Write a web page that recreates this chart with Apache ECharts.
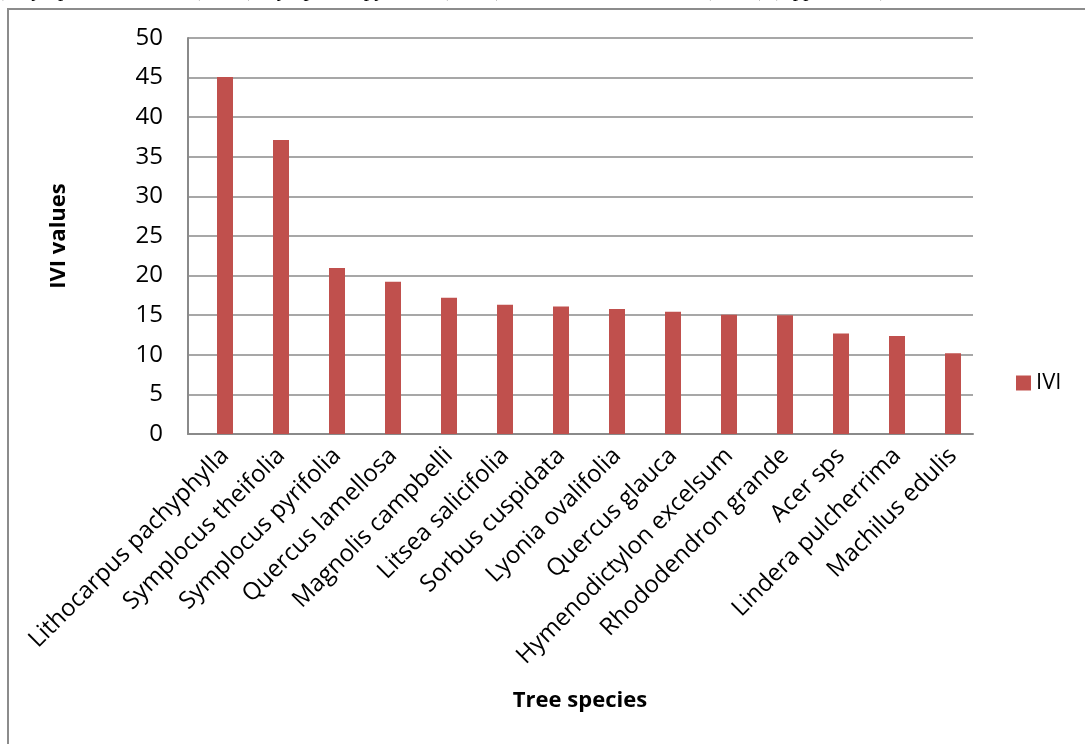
<!DOCTYPE html>
<html>
<head>
<meta charset="utf-8">
<title>IVI values of tree species</title>
<script src="https://cdn.jsdelivr.net/npm/echarts@6/dist/echarts.min.js"></script>
<style>
  html, body { margin: 0; padding: 0; background: #ffffff; }
  #chart { width: 1085px; height: 744px; }
</style>
</head>
<body>
<div id="chart"></div>
<script>
// Tree species ranked by Importance Value Index
const species = [
  'Lithocarpus pachyphylla', 'Symplocus theifolia', 'Symplocus pyrifolia',
  'Quercus lamellosa', 'Magnolis campbelli', 'Litsea salicifolia',
  'Sorbus cuspidata', 'Lyonia ovalifolia', 'Quercus glauca',
  'Hymenodictylon excelsum', 'Rhododendron grande', 'Acer sps',
  'Lindera pulcherrima', 'Machilus edulis'
];
const iviValues = [45.07, 37.12, 20.96, 19.23, 17.21, 16.33, 16.11, 15.78, 15.44, 15.06, 15.0, 12.70, 12.37, 10.18];
const seriesName = 'IVI';
const yTicks = { min: 0, max: 50, interval: 5 };
const yTitle = 'IVI values';
const xTitle = 'Tree species';
const captionLine = '), Symplocus theifolia (37.12), Symplocus pyrifolia (20.96) and Quercus lamellosa (19.23) (Appendix II).';

const font = '"Open Sans", "Liberation Sans", sans-serif';
const gridGray = '#8a8a8a';

const chart = echarts.init(document.getElementById('chart'), null, { renderer: 'canvas' });

chart.setOption({
  animation: false,
  backgroundColor: '#ffffff',
  textStyle: { fontFamily: font, color: '#000' },
  graphic: [
    {
      type: 'rect',
      shape: { x: 8, y: 9, width: 1200, height: 900 },
      style: { fill: 'none', stroke: '#8c8c8c', lineWidth: 2 },
      silent: true
    },
    {
      type: 'text',
      x: 2, y: -9.6,
      style: {
        text: captionLine,
        font: '21px "Liberation Serif", "Times New Roman", serif',
        fill: '#000',
        verticalAlign: 'middle'
      },
      silent: true
    },
    {
      type: 'text',
      x: 580, y: 701,
      style: {
        text: xTitle,
        font: 'bold 22px ' + font,
        fill: '#000',
        align: 'center',
        verticalAlign: 'middle'
      },
      silent: true
    },
    {
      type: 'text',
      x: 59, y: 236,
      rotation: Math.PI / 2,
      style: {
        text: yTitle,
        font: 'bold 22px ' + font,
        fill: '#000',
        align: 'center',
        verticalAlign: 'middle'
      },
      silent: true
    }
  ],
  legend: {
    show: true,
    left: 1016,
    top: 372,
    padding: 0,
    orient: 'vertical',
    itemWidth: 15,
    itemHeight: 15,
    itemGap: 5,
    icon: 'rect',
    textStyle: { fontFamily: font, fontSize: 22, color: '#000' },
    data: [seriesName]
  },
  grid: [
    // frame: value axis, gridlines and the baseline
    { left: 188, right: 112, top: 38, bottom: 310, containLabel: false },
    // bars and their category labels
    { left: 197, right: 104, top: 38, bottom: 310, containLabel: false }
  ],
  xAxis: [
    {
      type: 'category',
      gridIndex: 0,
      data: species,
      axisLine: { show: true, lineStyle: { color: gridGray, width: 2 } },
      axisTick: { show: false },
      axisLabel: { show: false },
      splitLine: { show: false }
    },
    {
      type: 'category',
      gridIndex: 1,
      data: species,
      axisLine: { show: false },
      axisTick: { show: false },
      splitLine: { show: false },
      axisLabel: {
        interval: 0,
        rotate: 45,
        margin: 18,
        fontFamily: font,
        fontSize: 24,
        color: '#000'
      }
    }
  ],
  yAxis: [
    {
      type: 'value',
      gridIndex: 0,
      min: yTicks.min,
      max: yTicks.max,
      interval: yTicks.interval,
      axisLine: { show: true, lineStyle: { color: gridGray, width: 2 } },
      axisTick: { show: false },
      splitLine: { show: true, lineStyle: { color: gridGray, width: 1.6 } },
      axisLabel: {
        margin: 25,
        fontFamily: font,
        fontSize: 24,
        color: '#000'
      }
    },
    {
      type: 'value',
      gridIndex: 1,
      min: yTicks.min,
      max: yTicks.max,
      interval: yTicks.interval,
      show: false,
      splitLine: { show: false }
    }
  ],
  series: [
    {
      name: seriesName,
      type: 'bar',
      xAxisIndex: 1,
      yAxisIndex: 1,
      data: iviValues,
      barWidth: 16,
      itemStyle: { color: '#C0504D' }
    }
  ]
});
</script>
</body>
</html>
